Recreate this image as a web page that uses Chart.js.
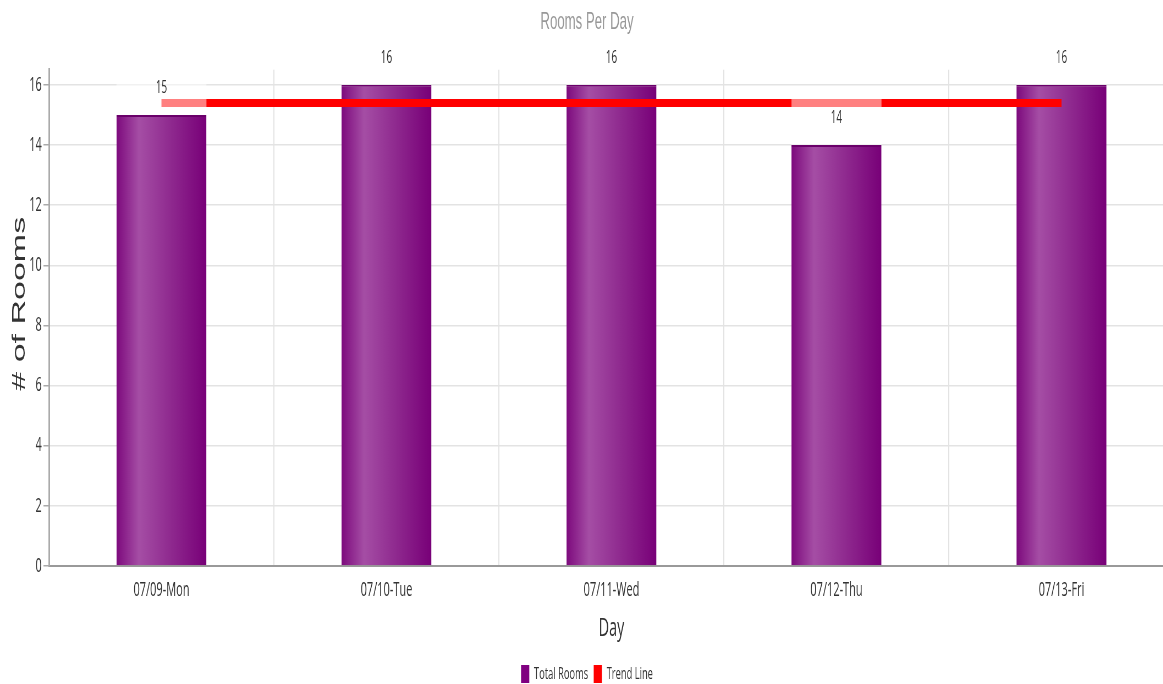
<!DOCTYPE html>
<html>
<head>
<meta charset="utf-8">
<script src="https://cdn.jsdelivr.net/npm/chart.js@4.4.1/dist/chart.umd.min.js"></script>
<style>
  html, body { margin: 0; padding: 0; background: #fff; }
  #wrap { width: 1163px; height: 684px; overflow: hidden; position: relative; }
  #inner { width: 2145px; height: 684px; transform: scaleX(0.55); transform-origin: 0 0; }
</style>
</head>
<body>
<div id="wrap"><div id="inner"><canvas id="c" width="2145" height="684"></canvas></div></div>
<script>
const categories = ['07/09-Mon', '07/10-Tue', '07/11-Wed', '07/12-Thu', '07/13-Fri'];
const totalRooms = [15, 16, 16, 14, 16];
const trendLine = [15.4, 15.4, 15.4, 15.4, 15.4];
const yTicks = [0, 2, 4, 6, 8, 10, 12, 14, 16];
const seriesNames = ['Total Rooms', 'Trend Line'];
const chartTitle = 'Rooms Per Day';
const xTitle = 'Day';
const yTitle = '# of Rooms';

const BAR_PCT = 0.4;

function barGradient(ctx) {
  const chart = ctx.chart;
  const xs = chart.scales && chart.scales.x;
  if (!xs || ctx.type !== 'data') return '#800080';
  const cx = xs.getPixelForValue(ctx.dataIndex);
  const w = (xs.width / categories.length) * BAR_PCT;
  if (!isFinite(cx) || !isFinite(w) || w <= 0) return '#800080';
  const g = chart.ctx.createLinearGradient(cx - w / 2, 0, cx + w / 2, 0);
  g.addColorStop(0, '#7d0a7d');
  g.addColorStop(0.25, '#a54ea5');
  g.addColorStop(0.6, '#8f2a8f');
  g.addColorStop(1, '#780078');
  return g;
}

const labelPlugin = {
  id: 'barLabels',
  afterDatasetsDraw(chart) {
    const meta = chart.getDatasetMeta(0);
    const c = chart.ctx;
    c.save();
    meta.data.forEach((bar, i) => {
      const w = bar.width;
      c.fillStyle = 'rgba(255,255,255,0.5)';
      c.fillRect(bar.x - w / 2, bar.y - 50, w, 50);
      c.fillStyle = '#333';
      c.font = '18px "Open Sans"';
      c.textAlign = 'center';
      c.textBaseline = 'middle';
      c.fillText(String(totalRooms[i]), bar.x, bar.y - 27);
    });
    c.restore();
  }
};

new Chart(document.getElementById('c'), {
  type: 'bar',
  data: {
    labels: categories,
    datasets: [
      {
        label: seriesNames[0],
        data: totalRooms,
        backgroundColor: barGradient,
        borderColor: '#6a006a',
        borderWidth: { top: 2, left: 0, right: 0, bottom: 0 },
        barPercentage: BAR_PCT,
        categoryPercentage: 1.0,
        order: 2
      },
      {
        type: 'line',
        label: seriesNames[1],
        data: trendLine,
        borderColor: '#ff0000',
        backgroundColor: '#ff0000',
        borderWidth: 8,
        pointRadius: 0,
        fill: false,
        order: 1
      }
    ]
  },
  options: {
    responsive: false,
    animation: false,
    layout: { padding: { left: 0, right: 10.5, top: 0, bottom: -9 } },
    plugins: {
      title: {
        display: true,
        text: chartTitle,
        color: '#999',
        font: { family: '"Liberation Sans"', size: 24, weight: 'normal' },
        padding: { top: 8, bottom: 33 }
      },
      legend: {
        position: 'bottom',
        labels: {
          color: '#333',
          font: { family: '"Open Sans"', size: 17 },
          boxWidth: 15,
          boxHeight: 18,
          padding: 10,
          generateLabels(chart) {
            const items = Chart.defaults.plugins.legend.labels.generateLabels(chart);
            items.sort((a, b) => a.datasetIndex - b.datasetIndex);
            items.forEach(it => {
              it.lineWidth = 0;
              it.strokeStyle = 'rgba(0,0,0,0)';
              it.fillStyle = it.datasetIndex === 0 ? '#800080' : '#ff0000';
            });
            return items;
          }
        }
      },
      tooltip: { enabled: false }
    },
    scales: {
      x: {
        afterFit(s) { s.height = 89; },
        grid: { color: '#e3e3e3', lineWidth: 2, drawTicks: false, offset: true },
        border: { color: '#999', width: 2 },
        ticks: { color: '#333', font: { family: '"Open Sans"', size: 20 }, padding: 12 },
        title: {
          display: true, text: xTitle, color: '#333',
          font: { family: '"Open Sans"', size: 26 },
          padding: { top: 0, bottom: 11 }
        }
      },
      y: {
        min: 0,
        max: 16.5,
        afterFit(s) { s.width = 89; },
        afterBuildTicks(s) { s.ticks = yTicks.map(v => ({ value: v })); },
        grid: { color: '#e3e3e3', lineWidth: 1.5, tickColor: '#aaa', tickLength: 10 },
        border: { color: '#aaa', width: 3 },
        ticks: { color: '#333', font: { family: '"Open Sans"', size: 20 }, padding: 3 },
        title: {
          display: true, text: '   ' + yTitle, color: '#333',
          font: { family: '"Liberation Sans"', size: 34, weight: 'normal' },
          padding: { top: 15, bottom: 0 }
        }
      }
    }
  },
  plugins: [labelPlugin]
});
</script>
</body>
</html>
